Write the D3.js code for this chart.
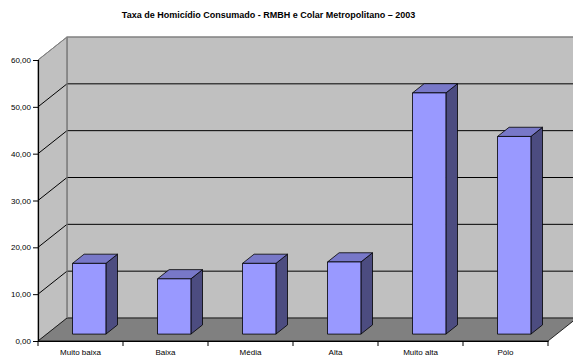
<!DOCTYPE html>
<html>
<head>
<meta charset="utf-8">
<script src="https://cdn.jsdelivr.net/npm/d3@7"></script>
<style>
  html, body { margin: 0; padding: 0; background: #fff; }
  svg { display: block; font-family: "Liberation Sans", Arial, sans-serif; }
</style>
</head>
<body>
<svg id="chart" width="573" height="359"></svg>
<script>
// Taxa de homicídio consumado por grupo de vulnerabilidade (2003)
const categories = ["Muito baixa", "Baixa", "Média", "Alta", "Muito alta", "Pólo"];
const taxa = [15.1, 11.8, 15.1, 15.4, 51.5, 42.2];
const yTicks = [0, 10, 20, 30, 40, 50, 60];
const title = "Taxa de Homicídio Consumado - RMBH e Colar Metropolitano – 2003";

(function () {
const svg = d3.select("#chart");

// front plane of the 3D box
const plotLeft = 38, plotRight = 548, plotBottom = 341, plotTop = 60;
const depthX = 29, depthY = 23;           // oblique offset of the back wall
const fmt = d3.format(".2f");
const tickFmt = v => fmt(v).replace(".", ",");

const x = d3.scaleBand().domain(categories).range([plotLeft, plotRight]).paddingInner(0).paddingOuter(0);
const y = d3.scaleLinear().domain([0, 60]).range([plotBottom, plotTop]);

// project a point (px on front plane, value) at depth fraction f
const P = (px, v, f) => [px + depthX * f, y(v) - depthY * f];
const poly = pts => "M" + pts.map(p => p.join(",")).join("L") + "Z";

// title
svg.append("text")
  .attr("x", 268.5).attr("y", 18)
  .attr("text-anchor", "middle")
  .attr("font-size", 9).attr("font-weight", "bold")
  .text(title);

const frameColor = "#808080";

// back wall
svg.append("path")
  .attr("d", poly([P(plotLeft, 0, 1), P(plotLeft, 60, 1), P(plotRight, 60, 1), P(plotRight, 0, 1)]))
  .attr("fill", "#c0c0c0").attr("stroke", frameColor).attr("stroke-width", 1);

// left wall
svg.append("path")
  .attr("d", poly([P(plotLeft, 0, 0), P(plotLeft, 60, 0), P(plotLeft, 60, 1), P(plotLeft, 0, 1)]))
  .attr("fill", "#c0c0c0").attr("stroke", frameColor).attr("stroke-width", 1);

// floor
svg.append("path")
  .attr("d", poly([P(plotLeft, 0, 0), P(plotRight, 0, 0), P(plotRight, 0, 1), P(plotLeft, 0, 1)]))
  .attr("fill", "#808080").attr("stroke", "#000").attr("stroke-width", 0.8);

// gridlines on left and back walls
const grid = svg.append("g").attr("stroke", "#000").attr("stroke-width", 1).attr("fill", "none");
yTicks.filter(v => v > 0 && v < 60).forEach(v => {
  const a = P(plotLeft, v, 0), b = P(plotLeft, v, 1), c = P(plotRight, v, 1);
  grid.append("path").attr("d", `M${a}L${b}L${c}`);
});
// wall edges on top of the grid
svg.append("path")
  .attr("d", `M${P(plotLeft, 0, 1)}L${P(plotLeft, 60, 1)}L${P(plotRight, 60, 1)}`)
  .attr("fill", "none").attr("stroke", frameColor).attr("stroke-width", 1.2);
svg.append("path")
  .attr("d", `M${P(plotLeft, 60, 0)}L${P(plotLeft, 60, 1)}`)
  .attr("fill", "none").attr("stroke", frameColor).attr("stroke-width", 1);

// bars
const f0 = 0.3, f1 = 0.7;
const barW = 33.4;
const bars = svg.append("g").attr("stroke", "#000").attr("stroke-width", 0.8).attr("stroke-linejoin", "round");
categories.forEach((c, i) => {
  const v = taxa[i];
  const cx = x(c) + x.bandwidth() / 2;
  const x0 = cx - barW / 2, x1 = cx + barW / 2;
  // side face
  bars.append("path")
    .attr("d", poly([P(x1, 0, f0), P(x1, v, f0), P(x1, v, f1), P(x1, 0, f1)]))
    .attr("fill", "#4c4c80");
  // top face
  bars.append("path")
    .attr("d", poly([P(x0, v, f0), P(x1, v, f0), P(x1, v, f1), P(x0, v, f1)]))
    .attr("fill", "#7878c8");
  // front face
  bars.append("path")
    .attr("d", poly([P(x0, 0, f0), P(x0, v, f0), P(x1, v, f0), P(x1, 0, f0)]))
    .attr("fill", "#9999ff");
});

// value axis (front-left edge)
const yAxis = d3.axisLeft(y).tickValues(yTicks).tickFormat(tickFmt).tickSize(5).tickPadding(2);
const ya = svg.append("g").attr("transform", `translate(${plotLeft},0)`).call(yAxis);
ya.select(".domain").attr("stroke", "#000").attr("stroke-width", 1.2);
ya.selectAll(".tick line").attr("stroke", "#000");
ya.selectAll(".tick text").attr("font-size", 8).attr("fill", "#000")
  .attr("font-family", "'Liberation Sans', Arial, sans-serif");

// category axis (front edge of floor)
const xAxis = d3.axisBottom(x).tickSize(0).tickPadding(8);
const xa = svg.append("g").attr("transform", `translate(0,${plotBottom})`).call(xAxis);
xa.select(".domain").attr("stroke", "#000").attr("stroke-width", 1);
xa.selectAll(".tick text").attr("font-size", 8).attr("fill", "#000")
  .attr("font-family", "'Liberation Sans', Arial, sans-serif");
// tick marks at category boundaries
xa.selectAll(".bound").data(d3.range(categories.length + 1)).enter().append("line")
  .attr("class", "bound")
  .attr("x1", i => plotLeft + i * x.bandwidth()).attr("x2", i => plotLeft + i * x.bandwidth())
  .attr("y1", 0).attr("y2", 5).attr("stroke", "#000").attr("stroke-width", 1);
})();
</script>
</body>
</html>
